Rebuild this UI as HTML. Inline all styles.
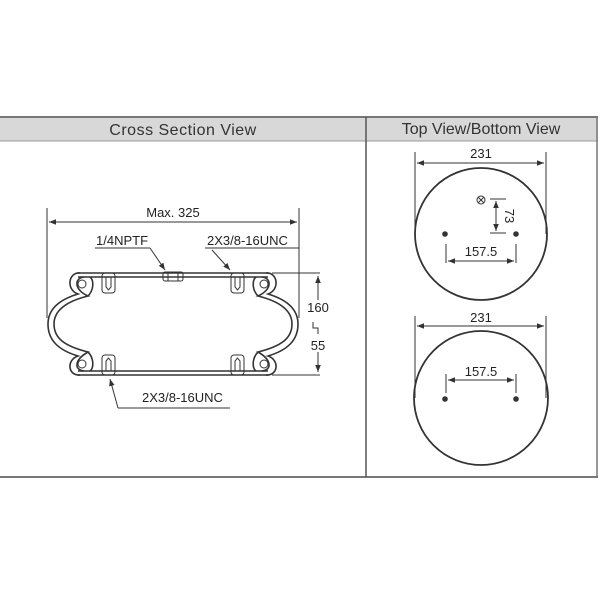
<!DOCTYPE html>
<html><head><style>body{margin:0;background:#fff}svg{display:block}</style></head><body>
<svg width="600" height="600" viewBox="0 0 600 600" xmlns="http://www.w3.org/2000/svg" font-family="Liberation Sans, sans-serif">
<defs><marker id="a" viewBox="0 0 10 10" refX="10" refY="5" markerWidth="7" markerHeight="7" orient="auto-start-reverse"><path d="M0,1 L10,5 L0,9 z" fill="#333"/></marker></defs>
<rect x="0" y="117" width="598" height="24" fill="#d8d8d8"/>
<line x1="0" y1="117" x2="598" y2="117" stroke="#777" stroke-width="2"/>
<line x1="0" y1="141" x2="598" y2="141" stroke="#999" stroke-width="1"/>
<line x1="0" y1="477" x2="598" y2="477" stroke="#777" stroke-width="2"/>
<line x1="366" y1="117" x2="366" y2="477" stroke="#555" stroke-width="1.5"/>
<line x1="597" y1="117" x2="597" y2="477" stroke="#777" stroke-width="1.5"/>
<text x="183" y="135" font-size="16" text-anchor="middle" fill="#333" letter-spacing="0.5">Cross  Section  View</text>
<text x="481" y="134" font-size="16" text-anchor="middle" fill="#333">Top View/Bottom  View</text>
<g stroke="#333" fill="none" stroke-width="1">
<line x1="47" y1="208" x2="47" y2="318"/><line x1="299" y1="208" x2="299" y2="318"/>
<line x1="49" y1="222" x2="297" y2="222" marker-start="url(#a)" marker-end="url(#a)"/>
<line x1="95" y1="248" x2="150" y2="248"/><line x1="150" y1="248" x2="165" y2="270" marker-end="url(#a)"/>
<line x1="205" y1="248" x2="299" y2="248"/><line x1="212" y1="250" x2="230" y2="270" marker-end="url(#a)"/>
<line x1="272" y1="273" x2="320" y2="273"/><line x1="272" y1="375" x2="320" y2="375"/>
<line x1="318" y1="300" x2="318" y2="276" marker-end="url(#a)"/>
<line x1="318" y1="352" x2="318" y2="372" marker-end="url(#a)"/>
<path d="M313,322 v6 h5 v6"/>
<line x1="118" y1="408" x2="230" y2="408"/><line x1="118" y1="408" x2="110" y2="379" marker-end="url(#a)"/>
<g stroke-width="1.6">
<path d="M78,273 H268 M78,277 H268 M78,371 H268 M78,375 H268"/>
<path d="M80,273 C68,272 66,290 78,294 C58,300 48,310 48,324 C48,340 58,350 78,356 C66,360 68,376 80,375"/>
<path d="M84,277 C74,278 74,290 88,296 C64,302 54,312 54,324 C54,338 64,346 88,352 C74,360 74,370 84,371"/>
<path d="M266,273 C278,272 280,290 268,294 C288,300 298,310 298,324 C298,340 288,350 268,356 C280,360 278,376 266,375"/>
<path d="M262,277 C272,278 272,290 258,296 C282,302 292,312 292,324 C292,338 282,346 258,352 C272,360 272,370 262,371"/>
<path d="M88,296 C94,290 94,280 90,277 M258,296 C252,290 252,280 256,277 M88,352 C94,358 94,368 90,371 M258,352 C252,358 252,368 256,371"/>
</g>
<circle cx="82" cy="284" r="4"/><circle cx="264" cy="284" r="4"/><circle cx="82" cy="364" r="4"/><circle cx="264" cy="364" r="4"/>
<rect x="102" y="273" width="13" height="20" rx="3"/><rect x="231" y="273" width="13" height="20" rx="3"/>
<rect x="102" y="355" width="13" height="20" rx="3"/><rect x="231" y="355" width="13" height="20" rx="3"/>
<path d="M106,277 v10 l2.5,3 l2.5,-3 v-10 M235,277 v10 l2.5,3 l2.5,-3 v-10 M106,371 v-10 l2.5,-3 l2.5,3 v10 M235,371 v-10 l2.5,-3 l2.5,3 v10"/>
<rect x="163" y="272" width="20" height="9" rx="2"/><path d="M168,272 v9 M178,272 v9"/>
<circle cx="481" cy="234" r="66" stroke-width="1.8"/>
<line x1="415" y1="152" x2="415" y2="234"/><line x1="546" y1="152" x2="546" y2="234"/>
<line x1="417" y1="163" x2="544" y2="163" marker-start="url(#a)" marker-end="url(#a)"/>
<circle cx="481" cy="200" r="4"/><path d="M478,197 l6,6 M484,197 l-6,6"/>
<line x1="490" y1="199" x2="506" y2="199"/><line x1="490" y1="233" x2="506" y2="233"/>
<line x1="496" y1="201" x2="496" y2="231" marker-start="url(#a)" marker-end="url(#a)"/>
<line x1="446" y1="244" x2="446" y2="263"/><line x1="516" y1="244" x2="516" y2="263"/>
<line x1="448" y1="261" x2="514" y2="261" marker-start="url(#a)" marker-end="url(#a)"/>
<circle cx="481" cy="398" r="67" stroke-width="1.8"/>
<line x1="415" y1="316" x2="415" y2="398"/><line x1="546" y1="316" x2="546" y2="398"/>
<line x1="417" y1="326" x2="544" y2="326" marker-start="url(#a)" marker-end="url(#a)"/>
<line x1="446" y1="374" x2="446" y2="393"/><line x1="516" y1="374" x2="516" y2="393"/>
<line x1="448" y1="380" x2="514" y2="380" marker-start="url(#a)" marker-end="url(#a)"/>
</g>
<g fill="#333"><circle cx="445" cy="234" r="2.8"/><circle cx="516" cy="234" r="2.8"/><circle cx="445" cy="399" r="2.8"/><circle cx="516" cy="399" r="2.8"/></g>
<g font-size="13" fill="#222">
<text x="173" y="217" text-anchor="middle">Max. 325</text>
<text x="96" y="245">1/4NPTF</text>
<text x="207" y="245">2X3/8-16UNC</text>
<text x="142" y="402">2X3/8-16UNC</text>
<text x="318" y="312" text-anchor="middle">160</text>
<text x="318" y="350" text-anchor="middle">55</text>
<text x="481" y="158" text-anchor="middle">231</text>
<text x="481" y="322" text-anchor="middle">231</text>
<text x="481" y="256" text-anchor="middle">157.5</text>
<text x="481" y="376" text-anchor="middle">157.5</text>
<text x="0" y="0" transform="translate(505,216) rotate(90)" text-anchor="middle">73</text>
</g>
</svg>
</body></html>
